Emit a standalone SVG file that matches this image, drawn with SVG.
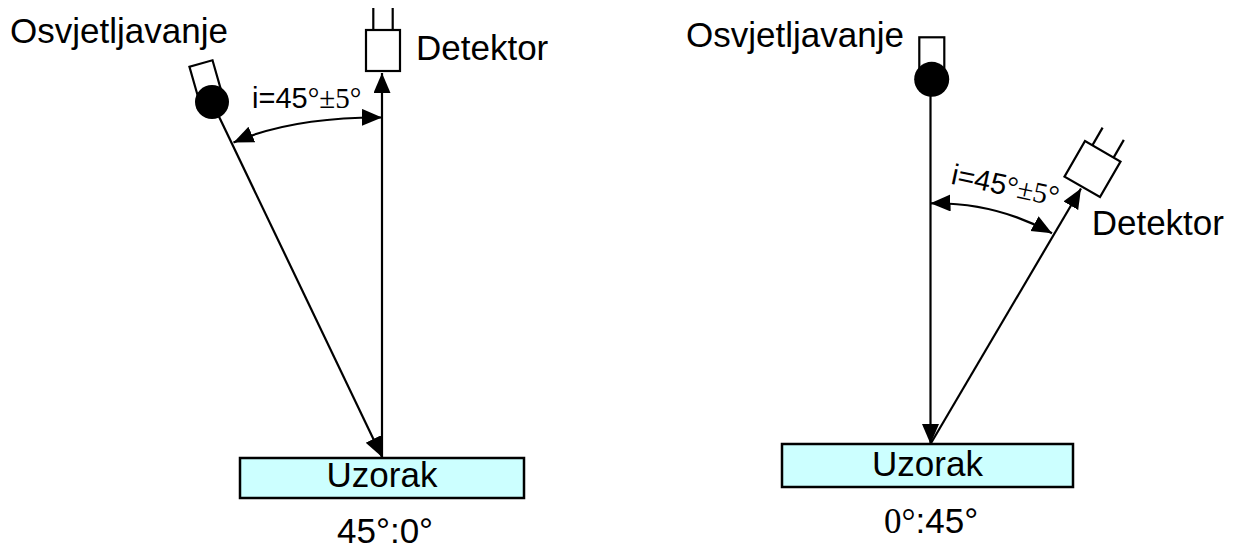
<svg xmlns="http://www.w3.org/2000/svg" width="1235" height="550" viewBox="0 0 1235 550">
<style>
.t{font-family:"Liberation Sans",Arial,sans-serif;font-size:35px;fill:#000}
.s{font-family:"Liberation Serif","Times New Roman",serif}
.lbl{font-size:29px}
.ln{stroke:#000;stroke-width:2.2;fill:none}
.box{fill:#CCFFFF;stroke:#000;stroke-width:2.5}
.outline{fill:#fff;stroke:#000;stroke-width:2.2}
.dot{fill:#000}
</style>
<defs>
<marker id="ah" markerUnits="userSpaceOnUse" markerWidth="22" markerHeight="18" refX="20" refY="8.5" orient="auto-start-reverse">
<path d="M0,0 L20,8.5 L0,17 z" fill="#000"/>
</marker>
</defs>
<g id="connectors">
<line class="ln" x1="212" y1="102" x2="382" y2="457" marker-end="url(#ah)"/>
<line class="ln" x1="382" y1="457" x2="382" y2="73" marker-end="url(#ah)"/>
<path class="ln" d="M382,117.5 Q292.25,117 233.5,142.5" marker-start="url(#ah)" marker-end="url(#ah)"/>
<line class="ln" x1="930.5" y1="80" x2="930.5" y2="444" marker-end="url(#ah)"/>
<line class="ln" x1="930.5" y1="444" x2="1081" y2="188.5" marker-end="url(#ah)"/>
<path class="ln" d="M930.5,203.3 A242,242 0 0 1 1052,233.3" marker-start="url(#ah)" marker-end="url(#ah)"/>
</g>
<g id="light-left">
<rect class="outline" x="-12" y="-40" width="24" height="35" transform="translate(212,102) rotate(-16)"/>
<circle class="dot" cx="212" cy="102" r="17"/>
</g>
<g id="detector-left">
<line class="ln" x1="373.3" y1="8" x2="373.3" y2="30"/>
<line class="ln" x1="392.7" y1="8" x2="392.7" y2="30"/>
<rect class="outline" x="366" y="30" width="34" height="41"/>
</g>
<g id="sample-left">
<rect class="box" x="240" y="458" width="284" height="40"/>
<text class="t" x="382" y="487" text-anchor="middle">Uzorak</text>
</g>
<text class="t" x="10" y="43">Osvjetljavanje</text>
<text class="t" x="416" y="60">Detektor</text>
<text class="t lbl" x="252" y="108.3">i=45<tspan class="s">°±5°</tspan></text>
<text class="t" x="337" y="543">45°:0°</text>
<g id="light-right">
<rect class="outline" x="919.3" y="37.3" width="25" height="38"/>
<circle class="dot" cx="931.7" cy="79.3" r="17.5"/>
</g>
<g id="detector-right">
<g transform="translate(1092.5,169.1) rotate(30)">
<line class="ln" x1="-12" y1="-20.5" x2="-12" y2="-41"/>
<line class="ln" x1="12.5" y1="-20.5" x2="12.5" y2="-41"/>
<rect class="outline" x="-20.5" y="-20.5" width="41" height="41"/>
</g>
</g>
<g id="sample-right">
<rect class="box" x="782" y="444" width="291" height="43"/>
<text class="t" x="927.5" y="475.5" text-anchor="middle">Uzorak</text>
</g>
<text class="t" x="686" y="47.3">Osvjetljavanje</text>
<text class="t" x="1091.7" y="235">Detektor</text>
<text class="t lbl" x="950" y="183.5" transform="rotate(12 950 183.5)">i=45<tspan class="s">°±5°</tspan></text>
<text class="t" x="884" y="533.3"><tspan class="s">0°</tspan>:45°</text>
</svg>
